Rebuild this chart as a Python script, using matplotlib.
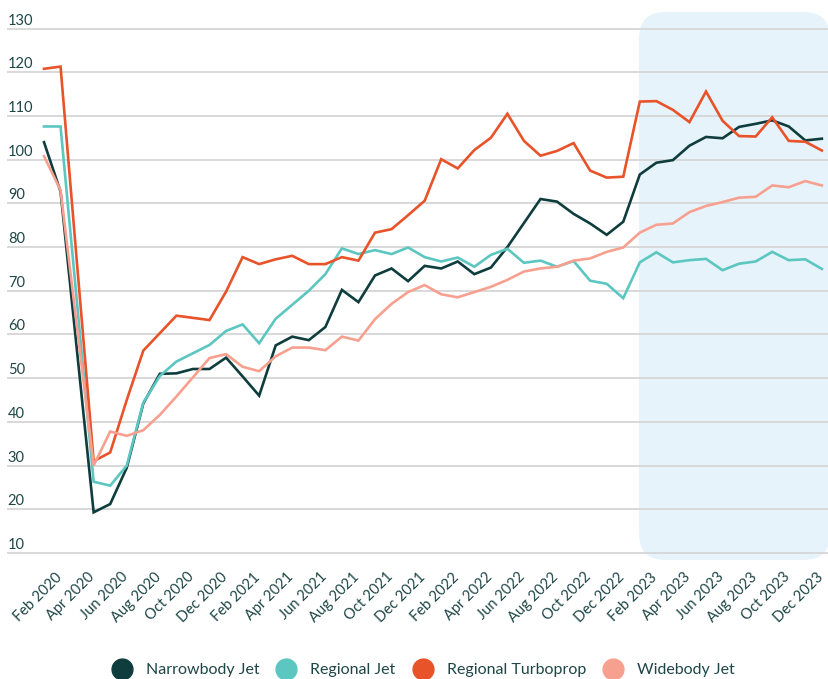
import numpy as np
import matplotlib
matplotlib.use("Agg")
import matplotlib.pyplot as plt
from matplotlib.patches import FancyBboxPatch
from matplotlib.lines import Line2D
import matplotlib.transforms as mtransforms

plt.rcParams['font.family'] = ['Lato', 'DejaVu Sans']

# ---- data (Jan 2020 .. Dec 2023, monthly) ----
narrowbody = [104.0, 92.7, 56.0, 19.3, 21.2, 29.5, 44.2, 51.0, 51.1, 52.1, 52.1, 54.7,
              50.4, 46.0, 57.5, 59.5, 58.7, 61.7, 70.2, 67.4, 73.5, 75.1, 72.2, 75.7,
              75.1, 76.7, 73.8, 75.3, 80.0, 85.5, 91.0, 90.4, 87.6, 85.4, 82.8, 85.8,
              96.6, 99.3, 99.9, 103.2, 105.2, 104.9, 107.5, 108.2, 109.0, 107.6, 104.4, 104.8]
regional_jet = [107.6, 107.6, 67.0, 26.3, 25.4, 30.0, 44.4, 50.5, 53.8, 55.7, 57.6, 60.8,
                62.3, 58.0, 63.6, 66.8, 70.0, 73.8, 79.7, 78.4, 79.3, 78.4, 79.9, 77.7,
                76.7, 77.6, 75.5, 78.2, 79.6, 76.4, 76.9, 75.5, 76.8, 72.3, 71.6, 68.3,
                76.5, 78.8, 76.5, 77.0, 77.3, 74.7, 76.2, 76.7, 78.9, 77.0, 77.2, 75.0]
regional_turboprop = [120.8, 121.3, 76.0, 31.0, 33.0, 45.0, 56.3, 60.3, 64.3, 63.8, 63.3, 69.8,
                      77.7, 76.1, 77.2, 78.0, 76.1, 76.1, 77.7, 76.9, 83.3, 84.1, 87.3, 90.6,
                      100.1, 98.0, 102.2, 105.0, 110.5, 104.3, 100.9, 102.0, 103.8, 97.5, 95.9, 96.1,
                      113.3, 113.4, 111.4, 108.6, 115.6, 108.9, 105.4, 105.3, 109.7, 104.3, 104.1, 102.1]
widebody = [100.8, 93.0, 61.5, 30.0, 37.8, 36.8, 38.1, 41.6, 45.8, 50.2, 54.6, 55.5,
            52.6, 51.6, 55.0, 57.0, 57.0, 56.4, 59.5, 58.6, 63.5, 67.0, 69.7, 71.3,
            69.2, 68.5, 69.7, 70.9, 72.5, 74.4, 75.1, 75.5, 76.9, 77.4, 78.9, 79.9,
            83.3, 85.1, 85.4, 88.0, 89.4, 90.3, 91.3, 91.5, 94.1, 93.7, 95.1, 94.1]

series_names = ["Narrowbody Jet", "Regional Jet", "Regional Turboprop", "Widebody Jet"]
series_colors = ["#0f3d3e", "#5cc6c1", "#e8532a", "#f8a08f"]

tick_positions = list(range(1, 48, 2))
tick_labels = ["Feb 2020", "Apr 2020", "Jun 2020", "Aug 2020", "Oct 2020", "Dec 2020",
               "Feb 2021", "Apr 2021", "Jun 2021", "Aug 2021", "Oct 2021", "Dec 2021",
               "Feb 2022", "Apr 2022", "Jun 2022", "Aug 2022", "Oct 2022", "Dec 2022",
               "Feb 2023", "Apr 2023", "Jun 2023", "Aug 2023", "Oct 2023", "Dec 2023"]
y_ticks = [10, 20, 30, 40, 50, 60, 70, 80, 90, 100, 110, 120, 130]

highlight_start = 36   # Jan 2023
text_color = "#1e4646"

# ---- figure ----
W, H = 829, 679
fig = plt.figure(figsize=(W / 100, H / 100), dpi=100)
left_px, right_px = 7, 829
top_px, bot_px = 11.1, 561.7
ax = fig.add_axes([left_px / W, 1 - bot_px / H, (right_px - left_px) / W, (bot_px - top_px) / H])

x = np.arange(len(narrowbody))
x0_px, dx_px = 44.0, 16.55
ax.set_xlim((left_px - x0_px) / dx_px, (right_px - x0_px) / dx_px)
ax.set_ylim(8, 134)

# highlight box
px_per_y = (553 - 28.6) / 120
aspect = (1 / px_per_y) / (1 / dx_px)
box = FancyBboxPatch((highlight_start - 0.05, 8.4), 47.5 - highlight_start + 0.05, 133.8 - 8.4,
                     boxstyle="round,pad=0,rounding_size=1.6", mutation_aspect=aspect,
                     facecolor="#e7f3fa", edgecolor="none", zorder=0)
ax.add_patch(box)

# gridlines
for v in y_ticks:
    ax.axhline(v, color="#d6d6d6", lw=1.3, zorder=1)

# y labels above gridlines
trans = mtransforms.blended_transform_factory(ax.transAxes, ax.transData)
trans = trans + mtransforms.ScaledTranslation(0, 4 / 100, fig.dpi_scale_trans)
for v in y_ticks:
    ax.text(0.001, v, str(v), transform=trans, ha="left", va="baseline",
            fontsize=10.5, color=text_color)

for data, name, col in zip([narrowbody, regional_jet, regional_turboprop, widebody],
                           series_names, series_colors):
    ax.plot(x, data, color=col, lw=1.9, zorder=3, solid_joinstyle="miter")

ax.set_yticks([])
ax.set_xticks(tick_positions)
ax.set_xticklabels(tick_labels, rotation=45, ha="right", va="top",
                   rotation_mode="anchor", fontsize=10.5, color=text_color)
ax.tick_params(axis="x", length=0, pad=6)
shift = mtransforms.ScaledTranslation(-6 / 100, 0, fig.dpi_scale_trans)
for lab in ax.get_xticklabels():
    lab.set_transform(lab.get_transform() + shift)
for s in ax.spines.values():
    s.set_visible(False)

handles = [Line2D([0], [0], marker="o", linestyle="none", markersize=15,
                  markerfacecolor=c, markeredgecolor=c) for c in series_colors]
leg = fig.legend(handles, series_names, loc="center", bbox_to_anchor=(0.507, 0.013),
                 ncol=4, frameon=False, fontsize=11.5, handletextpad=0.5,
                 columnspacing=0.7, labelcolor=text_color)

fig.savefig("out.png", dpi=100)
